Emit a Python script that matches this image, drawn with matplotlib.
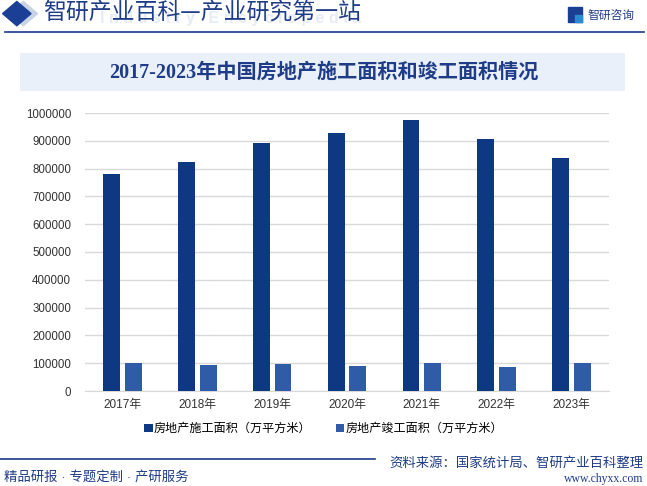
import matplotlib.pyplot as plt
import numpy as np
from matplotlib.patches import Rectangle, Polygon

plt.rcParams['font.family'] = ['Liberation Sans', 'Noto Sans CJK SC']

years = ['2017年', '2018年', '2019年', '2020年', '2021年', '2022年', '2023年']
shigong = [781484, 822300, 893821, 926759, 975387, 904999, 838364]
jungong = [101486, 93550, 95942, 91218, 101412, 86222, 99831]
series_names = ['房地产施工面积（万平方米）', '房地产竣工面积（万平方米）']
yticks = [0, 100000, 200000, 300000, 400000, 500000, 600000, 700000, 800000, 900000, 1000000]

dark = '#0E3882'
light = '#2F5BA7'

fig = plt.figure(figsize=(6.47, 4.86), dpi=100)

# header
fig.add_artist(Polygon([[0.014, 0.972], [0.036, 0.997], [0.058, 0.972], [0.036, 0.947]],
                       closed=True, transform=fig.transFigure, color='#C9D3E6'))
fig.add_artist(Polygon([[0.004, 0.972], [0.026, 0.997], [0.048, 0.972], [0.026, 0.947]],
                       closed=True, transform=fig.transFigure, color='#1A3F95'))
fig.text(0.155, 0.962, 'I n d u s t r y   E n c y c l o p e d i a', fontsize=11.5,
         color='#E6ECF5', va='center', ha='left', fontweight='bold', zorder=0)
fig.text(0.066, 0.972, '智研产业百科—产业研究第一站', fontsize=16.5, color='#1F3C88',
         va='center', ha='left', family=['Noto Sans CJK SC'], zorder=1)
fig.add_artist(plt.Line2D([0.008, 0.995], [0.934, 0.934], transform=fig.transFigure,
                          color='#1A3A8A', lw=1.2))
fig.add_artist(Rectangle((0.878, 0.955), 0.022, 0.03, transform=fig.transFigure,
                         color='#1A3F95'))
fig.add_artist(Rectangle((0.889, 0.955), 0.011, 0.015, transform=fig.transFigure,
                         color='#2A8BD0'))
fig.text(0.908, 0.968, '智研咨询', fontsize=8.5, color='#1F3C88', va='center', ha='left')

# title box
fig.add_artist(Rectangle((0.031, 0.813), 0.935, 0.078, transform=fig.transFigure,
                         color='#EAF0FA', lw=0))
fig.text(0.5, 0.851, '2017-2023年中国房地产施工面积和竣工面积情况', fontsize=14.5,
         color='#1F3C88', va='center', ha='center', fontweight='bold',
         family=['Liberation Serif', 'Noto Sans CJK SC'])

ax = fig.add_axes([85 / 647, 1 - 391 / 486, 524 / 647, 278 / 486])
x = np.arange(len(years))
w = 0.225
ax.bar(x - 0.145, shigong, w, color=dark, label=series_names[0], zorder=3)
ax.bar(x + 0.145, jungong, w, color=light, label=series_names[1], zorder=3)

ax.set_xlim(-0.5, len(years) - 0.5)
ax.set_ylim(0, 1000000)
ax.set_yticks(yticks)
ax.set_yticklabels([str(v) for v in yticks], fontsize=8.3, color='#333333')
ax.set_xticks(x)
ax.set_xticklabels(years, fontsize=8.5, color='#333333')
ax.grid(axis='y', color='#D9D9D9', lw=1, zorder=0)
for s in ['top', 'right', 'left']:
    ax.spines[s].set_visible(False)
ax.spines['bottom'].set_color('#D9D9D9')
ax.tick_params(axis='both', length=0)
ax.tick_params(axis='y', pad=10)
ax.tick_params(axis='x', pad=6)

fig.legend(loc='center', bbox_to_anchor=(0.5, 1 - 429 / 486), ncol=2, frameon=False,
           fontsize=8.7, handlelength=0.7, handleheight=0.7, handletextpad=0.1,
           columnspacing=2.0)

# footer
fig.add_artist(plt.Line2D([0.0, 0.58], [0.056, 0.056], transform=fig.transFigure,
                          color='#1A3A8A', lw=1.2))
fig.text(0.006, 0.018, '精品研报 · 专题定制 · 产研服务', fontsize=9.6, color='#1F3C88',
         va='center', ha='left')
fig.text(0.994, 0.047, '资料来源：国家统计局、智研产业百科整理', fontsize=9.6, color='#1F3C88',
         va='center', ha='right')
fig.text(0.994, 0.014, 'www.chyxx.com', fontsize=8.5, color='#1F3C88',
         va='center', ha='right', family=['Liberation Serif'])

fig.savefig('out.png', dpi=100)
